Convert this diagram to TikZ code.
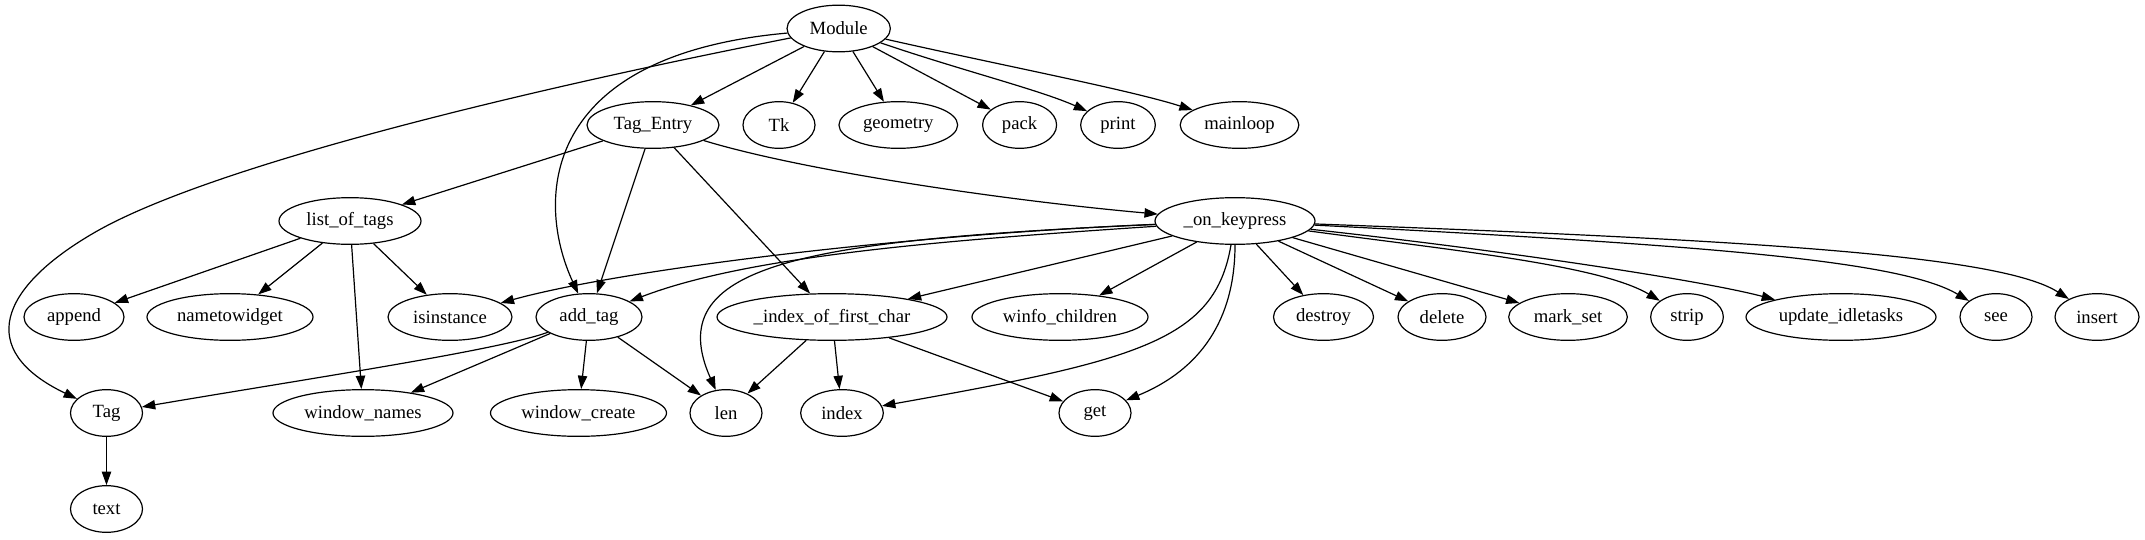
\documentclass[tikz,border=0pt]{standalone}
\usepackage{fontspec}
\setmainfont{Liberation Serif}
\usetikzlibrary{arrows.meta,shapes.geometric}
\begin{document}
\begin{tikzpicture}[x=0.75pt,y=-0.75pt,
  nd/.style={draw,ellipse,line width=0.9pt,inner sep=0pt,minimum height=35pt,font=\fontsize{14}{16}\selectfont},
  ed/.style={line width=0.9pt,-{Triangle[length=10pt,width=7pt]}}]
\useasboundingbox (0,0) rectangle (2145,539);
% row 0
\node[nd,minimum width=77.5pt] (mod) at (838.7,28.5) {Module};
% row 1
\node[nd,minimum width=99pt] (te) at (653,125) {Tag\_Entry};
\node[nd,minimum width=54pt] (tk) at (779,125) {Tk};
\node[nd,minimum width=89pt] (geo) at (898.3,125) {geometry};
\node[nd,minimum width=55.5pt] (pack) at (1019.6,125) {pack};
\node[nd,minimum width=56pt] (print) at (1118,125) {print};
\node[nd,minimum width=89pt] (ml) at (1239.5,125) {mainloop};
% row 2
\node[nd,minimum width=106.5pt] (lot) at (350,221) {list\_of\_tags};
\node[nd,minimum width=120pt] (okp) at (1235,221) {\_on\_keypress};
% row 3
\node[nd,minimum width=75pt] (app) at (74,317) {append};
\node[nd,minimum width=124.5pt] (ntw) at (230,317) {nametowidget};
\node[nd,minimum width=93pt] (isi) at (450,317) {isinstance};
\node[nd,minimum width=79.5pt] (at) at (589,317) {add\_tag};
\node[nd,minimum width=172.5pt] (iofc) at (832,317) {\_index\_of\_first\_char};
\node[nd,minimum width=132pt] (wc) at (1060,317) {winfo\_children};
\node[nd,minimum width=75pt] (des) at (1323.5,317) {destroy};
\node[nd,minimum width=66pt] (del) at (1442,317) {delete};
\node[nd,minimum width=89pt] (ms) at (1568,317) {mark\_set};
\node[nd,minimum width=54.5pt] (strip) at (1687,317) {strip};
\node[nd,minimum width=142.5pt] (uit) at (1841,317) {update\_idletasks};
\node[nd,minimum width=54pt] (see) at (1996,317) {see};
\node[nd,minimum width=63pt] (ins) at (2097,317) {insert};
% row 4
\node[nd,minimum width=54pt] (tag) at (106.5,413) {Tag};
\node[nd,minimum width=135pt] (wn) at (363,413) {window\_names};
\node[nd,minimum width=132pt] (wcr) at (578.5,413) {window\_create};
\node[nd,minimum width=54pt] (len) at (726,413) {len};
\node[nd,minimum width=62pt] (idx) at (842,413) {index};
\node[nd,minimum width=54pt] (get) at (1095,413) {get};
% row 5
\node[nd,minimum width=54pt] (txt) at (106.5,509) {text};

% Module edges
\draw[ed] (mod) .. controls (500,95) and (200,170) .. (92,234)
  .. controls (0,288) and (-25,350) .. (tag);
\draw[ed] (mod) .. controls (540,55) and (535,200) .. (at);
\draw[ed] (mod) -- (te);
\draw[ed] (mod) -- (tk);
\draw[ed] (mod) -- (geo);
\draw[ed] (mod) -- (pack);
\draw[ed] (mod) .. controls (960,70) and (1040,90) .. (print);
\draw[ed] (mod) .. controls (1000,65) and (1130,90) .. (ml);
% Tag_Entry edges
\draw[ed] (te) -- (lot);
\draw[ed] (te) -- (at);
\draw[ed] (te) -- (iofc);
\draw[ed] (te) .. controls (800,170) and (1000,200) .. (okp);
% list_of_tags edges
\draw[ed] (lot) -- (app);
\draw[ed] (lot) -- (ntw);
\draw[ed] (lot) -- (isi);
\draw[ed] (lot) -- (wn);
% add_tag edges
\draw[ed] (at) .. controls (500,350) and (300,380) .. (tag);
\draw[ed] (at) -- (wn);
\draw[ed] (at) -- (wcr);
\draw[ed] (at) -- (len);
% _on_keypress edges
\draw[ed] (okp) .. controls (900,235) and (620,270) .. (isi);
\draw[ed] (okp) .. controls (950,240) and (750,255) .. (at);
\draw[ed] (okp) .. controls (800,240) and (660,265) .. (len);
\draw[ed] (okp) -- (iofc);
\draw[ed] (okp) -- (wc);
\draw[ed] (okp) .. controls (1215,340) and (1140,360) .. (idx);
\draw[ed] (okp) .. controls (1235,320) and (1200,370) .. (get);
\draw[ed] (okp) -- (des);
\draw[ed] (okp) -- (del);
\draw[ed] (okp) -- (ms);
\draw[ed] (okp) .. controls (1450,250) and (1600,265) .. (strip);
\draw[ed] (okp) .. controls (1500,250) and (1700,280) .. (uit);
\draw[ed] (okp) .. controls (1700,245) and (1900,260) .. (see);
\draw[ed] (okp) .. controls (1750,240) and (2000,255) .. (ins);
% _index_of_first_char edges
\draw[ed] (iofc) -- (len);
\draw[ed] (iofc) -- (idx);
\draw[ed] (iofc) -- (get);
% Tag edge
\draw[ed] (tag) -- (txt);
\end{tikzpicture}
\end{document}
